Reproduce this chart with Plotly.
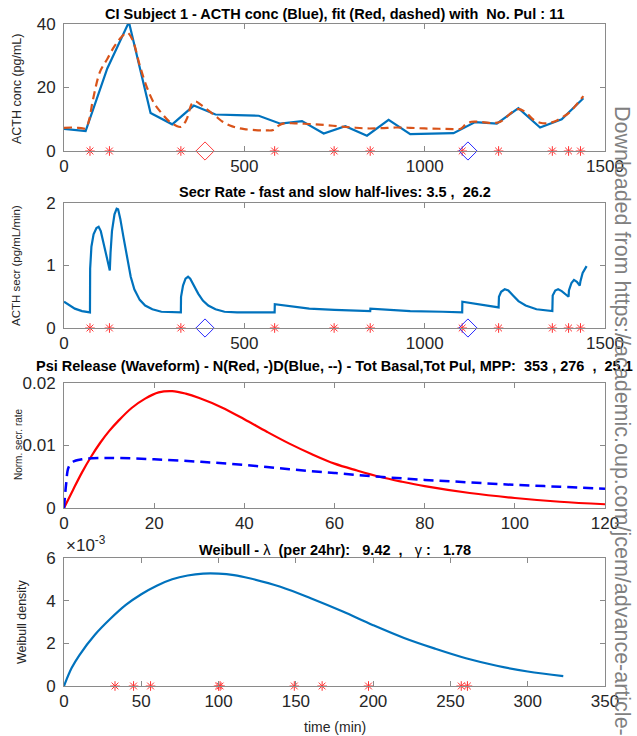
import plotly.graph_objects as go

W, H = 637, 736

# ---------------- data ----------------
# Panel 1: ACTH concentration (blue) and fit (orange dashed)
conc_t = [0, 60, 120, 180, 240, 300, 360, 420, 480, 540, 600, 660, 720, 780, 840,
          900, 960, 1020, 1080, 1140, 1200, 1260, 1320, 1380, 1440]
conc_v = [7.0, 6.3, 26.0, 40.6, 12.0, 8.4, 14.3, 11.5, 11.3, 11.1, 8.6, 9.4, 5.5, 7.8, 4.8,
          9.8, 5.3, 5.4, 5.6, 9.1, 8.6, 13.5, 7.4, 10.0, 16.6]
fit_t = [0, 20, 40, 60, 70, 80, 100, 120, 140, 160, 175, 190, 210, 230, 250, 270, 290, 310,
         325, 340, 355, 365, 380, 400, 420, 440, 460, 480, 500, 530, 560, 580, 595, 610, 640,
         680, 720, 760, 800, 840, 880, 920, 960, 1000, 1040, 1080, 1100, 1115, 1130, 1160,
         1190, 1210, 1240, 1260, 1280, 1300, 1320, 1340, 1360, 1380, 1400, 1420, 1440]
fit_v = [7.3, 7.4, 7.3, 7.2, 10, 16, 25, 29, 33, 36, 37.3, 35, 27, 20, 15, 12, 9.5, 8,
         7.6, 10, 15, 15.6, 14.5, 12.8, 11, 9.2, 8, 7.3, 6.9, 6.6, 6.5, 6.6, 8, 8.7, 8.7,
         8.5, 8.2, 7.8, 7.4, 7.1, 7.2, 7.4, 7.3, 7.1, 7.0, 6.9, 7.0, 8.5, 9.2, 9.1,
         8.8, 9.2, 12, 13.2, 12.2, 10, 8.9, 8.7, 9.3, 10.5, 12, 14.5, 17.3]
pulse_t = [72, 126, 324, 584, 749, 849, 1104, 1205, 1354, 1399, 1432]
diamond_t = [391, 1120]

# Panel 2: secretion rate
secr_t = [0, 15, 30, 50, 72, 72.5, 76, 82, 90, 96, 102, 110, 118, 125, 127, 129, 133, 140,
          146, 150, 156, 165, 175, 185, 195, 210, 225, 245, 270, 300, 324, 324.5, 330, 337,
          344, 350, 360, 372, 385, 400, 420, 445, 480, 540, 584, 584.5, 620, 680, 750, 800,
          849, 849.5, 900, 960, 1050, 1104, 1104.5, 1140, 1180, 1205, 1206, 1212, 1222,
          1232, 1245, 1260, 1280, 1310, 1354, 1355, 1362, 1370, 1380, 1395, 1399, 1400,
          1407, 1414, 1422, 1430, 1432, 1438, 1445, 1449]
secr_v = [0.42, 0.36, 0.31, 0.27, 0.25, 0.95, 1.3, 1.5, 1.6, 1.62, 1.55, 1.35, 1.15, 0.98,
          0.92, 1.2, 1.55, 1.82, 1.91, 1.9, 1.75, 1.45, 1.1, 0.82, 0.62, 0.45, 0.36, 0.3,
          0.26, 0.25, 0.25, 0.5, 0.68, 0.79, 0.82, 0.79, 0.68, 0.55, 0.44, 0.36, 0.3, 0.26,
          0.25, 0.25, 0.25, 0.38, 0.35, 0.31, 0.29, 0.28, 0.27, 0.31, 0.29, 0.27, 0.26,
          0.25, 0.42, 0.39, 0.35, 0.33, 0.5, 0.58, 0.62, 0.6, 0.52, 0.43, 0.36, 0.3, 0.27,
          0.52, 0.6, 0.62, 0.59, 0.51, 0.5, 0.6, 0.72, 0.77, 0.74, 0.68, 0.75, 0.88, 0.96, 0.99]

# Panel 3: waveforms
wave_t = [0, 2, 4, 6, 8, 10, 12, 15, 18, 21, 24, 27, 30, 35, 40, 45, 50, 55, 60, 65, 70,
          75, 80, 90, 100, 110, 120]
wave_red = [0, 0.0029, 0.0057, 0.0082, 0.0104, 0.0123, 0.0139, 0.0160, 0.0175, 0.0185,
            0.0187, 0.0183, 0.0176, 0.0161, 0.0142, 0.0122, 0.0103, 0.0086, 0.0071, 0.0060,
            0.0050, 0.0042, 0.0035, 0.0024, 0.0016, 0.0010, 0.0006]
wave2_t = [0, 0.5, 1, 2, 4, 8, 12, 20, 30, 40, 50, 60, 70, 80, 90, 100, 110, 120]
wave_blue = [0, 0.004, 0.0065, 0.0074, 0.0078, 0.0080, 0.0080, 0.0078, 0.0074, 0.0069,
             0.0062, 0.0056, 0.0050, 0.0045, 0.0041, 0.0037, 0.0034, 0.0031]

# Panel 4: Weibull density
weib_t = [0, 5, 10, 20, 30, 40, 50, 60, 70, 80, 90, 100, 110, 120, 140, 160, 180, 200, 220,
          240, 260, 280, 300, 323]
weib_v = [0, 0.85e-3, 1.45e-3, 2.4e-3, 3.15e-3, 3.8e-3, 4.3e-3, 4.7e-3, 5.0e-3, 5.18e-3,
          5.27e-3, 5.27e-3, 5.2e-3, 5.05e-3, 4.65e-3, 4.1e-3, 3.5e-3, 2.85e-3, 2.25e-3,
          1.75e-3, 1.3e-3, 0.95e-3, 0.68e-3, 0.46e-3]
interval_t = [33, 45, 56, 100, 101, 149, 167, 197, 257, 261]

titles = [
    "CI Subject 1 - ACTH conc (Blue), fit (Red, dashed) with  No. Pul : 11",
    "Secr Rate - fast and slow half-lives: 3.5 ,  26.2",
    "Psi Release (Waveform) - N(Red, -)D(Blue, --) - Tot Basal,Tot Pul, MPP:  353 , 276  ,  25.1",
    "Weibull - λ  (per 24hr):   9.42  ,   γ :   1.78",
]
ytitles = ["ACTH conc (pg/mL)", "ACTH secr (pg/mL/min)", "Norm. secr. rate", "Weibull density"]
watermark = "Downloaded from https://academic.oup.com/jcem/advance-article-"

# ---------------- layout geometry (pixels) ----------------
XL, XR = 64, 605
boxes = [(24, 151), (203, 328), (383, 508), (558, 686)]

BLUE = "#0072BD"
ORANGE = "#D95319"
AST = "rgb(255,50,50)"
FONT = "Liberation Sans, Arial, Helvetica, sans-serif"
AXC = "#8a8a8a"
TXT = "#262626"


def px_x(x):
    return x / W


def px_y(y):
    return 1 - y / H


fig = go.Figure()


def ast_trace(xs, xa, ya):
    return go.Scatter(x=xs, y=[0] * len(xs), mode="markers", xaxis=xa, yaxis=ya,
                      cliponaxis=False,
                      marker=dict(symbol="asterisk-open", size=8, color=AST,
                                  line=dict(color=AST, width=1)),
                      showlegend=False)


def diamond_trace(xs, color, xa, ya):
    return go.Scatter(x=xs, y=[0] * len(xs), mode="markers", xaxis=xa, yaxis=ya,
                      cliponaxis=False,
                      marker=dict(symbol="diamond-open", size=14, color=color,
                                  line=dict(color=color, width=1)),
                      showlegend=False)


# Panel 1
fig.add_trace(go.Scatter(x=conc_t, y=conc_v, mode="lines", line=dict(color=BLUE, width=2.2),
                         xaxis="x", yaxis="y", showlegend=False))
fig.add_trace(go.Scatter(x=fit_t, y=fit_v, mode="lines", line_shape="spline",
                         line=dict(color=ORANGE, width=2.2, dash="8px,5px"),
                         xaxis="x", yaxis="y", showlegend=False))
fig.add_trace(ast_trace(pulse_t, "x", "y"))
fig.add_trace(diamond_trace([diamond_t[0]], "rgb(255,60,60)", "x", "y"))
fig.add_trace(diamond_trace([diamond_t[1]], "rgb(40,40,255)", "x", "y"))

# Panel 2
fig.add_trace(go.Scatter(x=secr_t, y=secr_v, mode="lines", line=dict(color=BLUE, width=2.2),
                         xaxis="x2", yaxis="y2", showlegend=False))
fig.add_trace(ast_trace(pulse_t, "x2", "y2"))
fig.add_trace(diamond_trace(diamond_t, "rgb(40,40,255)", "x2", "y2"))

# Panel 3
fig.add_trace(go.Scatter(x=wave_t, y=wave_red, mode="lines", line_shape="spline",
                         line=dict(color="#ff0000", width=2.2),
                         xaxis="x3", yaxis="y3", showlegend=False))
fig.add_trace(go.Scatter(x=wave2_t, y=wave_blue, mode="lines", line_shape="spline",
                         line=dict(color="#0000ff", width=2.5, dash="10px,6px"),
                         xaxis="x3", yaxis="y3", showlegend=False))

# Panel 4
fig.add_trace(go.Scatter(x=weib_t, y=weib_v, mode="lines", line_shape="spline",
                         line=dict(color=BLUE, width=2.2),
                         xaxis="x4", yaxis="y4", showlegend=False))
fig.add_trace(ast_trace(interval_t, "x4", "y4"))

xranges = [[0, 1500], [0, 1500], [0, 120], [0, 350]]
xtickv = [[0, 500, 1000, 1500], [0, 500, 1000, 1500], [0, 20, 40, 60, 80, 100, 120],
          [0, 50, 100, 150, 200, 250, 300, 350]]
yranges = [[0, 40], [0, 2], [0, 0.02], [0, 0.006]]
ytickv = [[0, 20, 40], [0, 1, 2], [0, 0.01, 0.02], [0, 0.002, 0.004, 0.006]]
ytickt = [["0", "20", "40"], ["0", "1", "2"], ["0", "0.01", "0.02"], ["0", "2", "4", "6"]]

layout = dict(width=W, height=H, margin=dict(l=0, r=0, t=0, b=0),
              paper_bgcolor="white", plot_bgcolor="white",
              font=dict(family=FONT, color=TXT))

annotations = []
for i, (top, bot) in enumerate(boxes):
    sfx = "" if i == 0 else str(i + 1)
    ax = dict(domain=[px_x(XL), px_x(XR)], range=xranges[i], tickvals=xtickv[i],
              ticktext=[str(v) for v in xtickv[i]],
              showline=True, linecolor=AXC, linewidth=1, mirror="ticks",
              ticks="inside", ticklen=5, tickcolor=AXC, showgrid=False, zeroline=False,
              tickfont=dict(size=17, color=TXT, family=FONT), automargin=False,
              anchor="y" + sfx)
    ay = dict(domain=[px_y(bot), px_y(top)], range=yranges[i], tickvals=ytickv[i],
              ticktext=ytickt[i],
              showline=True, linecolor=AXC, linewidth=1, mirror="ticks",
              ticks="inside", ticklen=5, tickcolor=AXC, showgrid=False, zeroline=False,
              tickfont=dict(size=17, color=TXT, family=FONT), automargin=False,
              anchor="x" + sfx, ticklabelstandoff=4)
    layout["xaxis" + sfx] = ax
    layout["yaxis" + sfx] = ay

title_y = [14, 192, 366, 550]
for i, t in enumerate(titles):
    if i == 3:
        t = ("<b>Weibull - </b>λ<b>\u00a0\u00a0(per 24hr):\u00a0\u00a0\u00a09.42\u00a0\u00a0,"
             "\u00a0\u00a0\u00a0</b>γ<b>\u00a0:\u00a0\u00a0\u00a01.78</b>")
    else:
        t = "<b>" + t.replace("  ", "\u00a0\u00a0") + "</b>"
    annotations.append(dict(text=t, x=px_x((XL + XR) / 2), y=px_y(title_y[i]),
                            xref="paper", yref="paper", xanchor="center", yanchor="middle",
                            showarrow=False, font=dict(size=14.5, color="black", family=FONT)))

ytitle_x = [17, 16, 18, 22]
ytitle_y = [89, 266, 444, 622]
ytitle_sz = [12.5, 11.5, 10, 12.5]
for i, t in enumerate(ytitles):
    annotations.append(dict(text=t, x=px_x(ytitle_x[i]), y=px_y(ytitle_y[i]),
                            xref="paper", yref="paper", xanchor="center", yanchor="middle",
                            textangle=-90, showarrow=False,
                            font=dict(size=ytitle_sz[i], color=TXT, family=FONT)))

# x10^-3 exponent label
annotations.append(dict(text="×10<sup>-3</sup>", x=px_x(64), y=px_y(557), xref="paper",
                        yref="paper", xanchor="left", yanchor="bottom", showarrow=False,
                        font=dict(size=17, color=TXT, family=FONT)))
# x-axis label of last panel
annotations.append(dict(text="time (min)", x=px_x((XL + XR) / 2), y=px_y(727), xref="paper",
                        yref="paper", xanchor="center", yanchor="middle", showarrow=False,
                        font=dict(size=14, color=TXT, family=FONT)))
# watermark
annotations.append(dict(text=watermark, x=px_x(622), y=px_y(104), xref="paper", yref="paper",
                        xanchor="center", yanchor="top", textangle=90, showarrow=False,
                        font=dict(size=21.5, color="#808080", family=FONT)))

layout["annotations"] = annotations
fig.update_layout(**layout)
fig.write_html("out.html")
